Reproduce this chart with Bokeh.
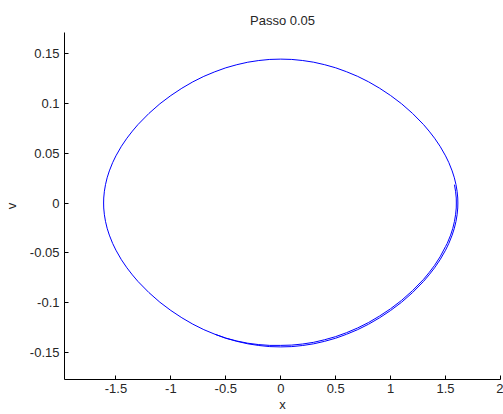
from bokeh.plotting import figure
from bokeh.models import FixedTicker, Range1d
from bokeh.embed import file_html
from bokeh.resources import INLINE

# trajectory (x, v), in drawing order (about 1.3 turns, clockwise)
# first pass: right side (inner line) -> bottom -> left end
x_pass1 = [1.581, 1.591, 1.5974, 1.598, 1.5974, 1.591, 1.581, 1.566, 1.546, 1.515, 1.500,
           1.450, 1.400, 1.350, 1.300, 1.200, 1.100, 1.000, 0.900, 0.800, 0.700, 0.600, 0.500,
           0.400, 0.300, 0.200, 0.100, 0.000, -0.100, -0.200, -0.300, -0.400, -0.500, -0.600,
           -0.700, -0.800, -0.900, -1.000, -1.100, -1.200, -1.300, -1.350, -1.400, -1.450,
           -1.500, -1.530, -1.560, -1.580, -1.595, -1.605, -1.611, -1.612]
v_pass1 = [0.0184, 0.0118, 0.0050, 0.0000, -0.0050, -0.0118, -0.0184, -0.0253, -0.0322,
           -0.0405, -0.0436, -0.0540, -0.0625, -0.0698, -0.0765, -0.0878, -0.0976, -0.1060,
           -0.1133, -0.1198, -0.1253, -0.1300, -0.1340, -0.1371, -0.1397, -0.1414, -0.1425,
           -0.1428, -0.1428, -0.1420, -0.1406, -0.1384, -0.1355, -0.1316, -0.1270, -0.1215,
           -0.1151, -0.1078, -0.0995, -0.0898, -0.0786, -0.0721, -0.0650, -0.0569, -0.0473,
           -0.0405, -0.0322, -0.0253, -0.0184, -0.0118, -0.0050, 0.0000]
# top: left -> right
x_top = [-1.611, -1.605, -1.595, -1.580, -1.560, -1.530, -1.500, -1.450, -1.400, -1.350,
         -1.300, -1.200, -1.100, -1.000, -0.900, -0.800, -0.700, -0.600, -0.500, -0.400,
         -0.300, -0.200, -0.100, 0.000, 0.100, 0.200, 0.300, 0.400, 0.500, 0.600, 0.700, 0.800,
         0.900, 1.000, 1.100, 1.200, 1.300, 1.350, 1.400, 1.450, 1.500, 1.530, 1.560, 1.580,
         1.595, 1.605, 1.611]
v_top = [0.0050, 0.0118, 0.0184, 0.0253, 0.0322, 0.0405, 0.0473, 0.0569, 0.0650, 0.0721,
         0.0786, 0.0898, 0.0995, 0.1078, 0.1151, 0.1215, 0.1270, 0.1316, 0.1356, 0.1387,
         0.1412, 0.1429, 0.1440, 0.1443, 0.1440, 0.1429, 0.1412, 0.1387, 0.1356, 0.1316,
         0.1270, 0.1215, 0.1151, 0.1078, 0.0995, 0.0898, 0.0786, 0.0721, 0.0650, 0.0569,
         0.0473, 0.0405, 0.0322, 0.0253, 0.0184, 0.0118, 0.0050]
# second pass: right side (outer line) -> bottom, stops near x = -0.6
x_pass2 = [1.612, 1.611, 1.605, 1.595, 1.580, 1.560, 1.530, 1.500, 1.450, 1.400, 1.350, 1.300,
           1.200, 1.100, 1.000, 0.900, 0.800, 0.700, 0.600, 0.500, 0.400, 0.300, 0.200, 0.100,
           0.000, -0.100, -0.200, -0.300, -0.400, -0.500, -0.600]
v_pass2 = [0.0000, -0.0050, -0.0118, -0.0184, -0.0253, -0.0322, -0.0405, -0.0473, -0.0569,
           -0.0650, -0.0721, -0.0786, -0.0898, -0.0995, -0.1078, -0.1151, -0.1215, -0.1270,
           -0.1316, -0.1356, -0.1387, -0.1412, -0.1429, -0.1440, -0.1443, -0.1440, -0.1429,
           -0.1412, -0.1387, -0.1356, -0.1316]

x_ticks = [-1.5, -1, -0.5, 0, 0.5, 1, 1.5, 2]
x_labels = ["-1.5", "-1", "-0.5", "0", "0.5", "1", "1.5", "2"]
y_ticks = [-0.15, -0.1, -0.05, 0, 0.05, 0.1, 0.15]
y_labels = ["-0.15", "-0.1", "-0.05", "0", "0.05", "0.1", "0.15"]
title_text = "Passo 0.05"

FONT = "Liberation Sans"
TXT = "#262626"

p = figure(width=503, height=414, output_backend="svg", toolbar_location=None,
           x_range=Range1d(-1.968, 2.0), y_range=Range1d(-0.177, 0.171),
           min_border_left=63, min_border_right=3, min_border_top=32, min_border_bottom=35,
           title=title_text)
p.title.align = "center"
p.title.text_font = FONT
p.title.text_font_size = "13px"
p.title.text_font_style = "normal"
p.title.text_color = TXT
p.title.text_line_height = 0.5

xs = x_pass1 + x_top + x_pass2
vs = v_pass1 + v_top + v_pass2
p.line(xs, vs, line_color="#0000ff", line_width=1)

p.xgrid.visible = False
p.ygrid.visible = False
p.outline_line_color = None
p.background_fill_color = "white"
p.border_fill_color = "white"

p.xaxis.ticker = FixedTicker(ticks=x_ticks)
p.xaxis.major_label_overrides = dict(zip(x_ticks, x_labels))
p.yaxis.ticker = FixedTicker(ticks=y_ticks)
p.yaxis.major_label_overrides = dict(zip(y_ticks, y_labels))
p.xaxis.axis_label = "x"
p.yaxis.axis_label = "v"

for ax in (p.xaxis[0], p.yaxis[0]):
    ax.axis_line_color = "black"
    ax.major_tick_line_color = "black"
    ax.major_tick_in = 4
    ax.major_tick_out = 0
    ax.minor_tick_line_color = None
    ax.major_label_text_font = FONT
    ax.major_label_text_font_size = "13px"
    ax.major_label_text_color = TXT
    ax.axis_label_text_font = FONT
    ax.axis_label_text_font_size = "13px"
    ax.axis_label_text_font_style = "normal"
    ax.axis_label_text_color = TXT

p.yaxis.major_label_orientation = "horizontal"
p.yaxis.major_label_standoff = 5
p.yaxis.axis_label_standoff = 8
p.xaxis.major_label_standoff = 4
p.xaxis.axis_label_standoff = 1

open("out.html", "w").write(file_html(p, INLINE))
